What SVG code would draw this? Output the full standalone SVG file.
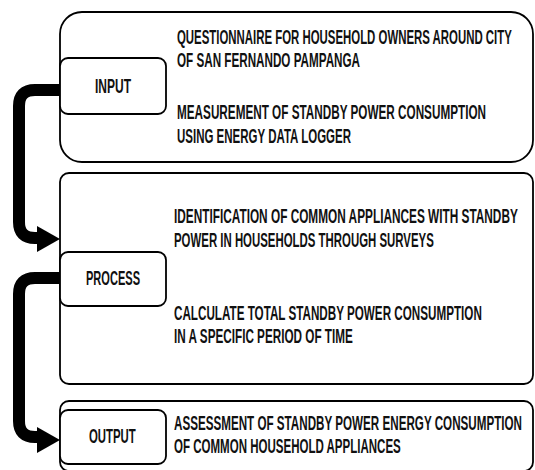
<svg xmlns="http://www.w3.org/2000/svg" width="535" height="470" viewBox="0 0 535 470">
<defs>
<style>
.big{fill:#fff;stroke:#000;stroke-width:1.8}
.small{fill:#fff;stroke:#000;stroke-width:1.8}
.t{font-family:"Liberation Sans",Arial,sans-serif;font-weight:bold;font-size:20px;fill:#111}
.conn{fill:none;stroke:#000;stroke-width:12}
</style>
</defs>
<rect width="535" height="470" fill="#fff"/>
<g id="input-panel">
<rect class="big" x="60" y="12" width="473" height="150" rx="22"/>
<text class="t" transform="translate(177,44) scale(0.6,1)" textLength="558" lengthAdjust="spacingAndGlyphs">QUESTIONNAIRE FOR HOUSEHOLD OWNERS AROUND CITY</text>
<text class="t" transform="translate(177,67) scale(0.6,1)" textLength="305" lengthAdjust="spacingAndGlyphs">OF SAN FERNANDO PAMPANGA</text>
<text class="t" transform="translate(177,119) scale(0.6,1)" textLength="515" lengthAdjust="spacingAndGlyphs">MEASUREMENT OF STANDBY POWER CONSUMPTION</text>
<text class="t" transform="translate(177,143) scale(0.6,1)" textLength="290" lengthAdjust="spacingAndGlyphs">USING ENERGY DATA LOGGER</text>
</g>
<g id="process-panel">
<rect class="big" x="60" y="173" width="473" height="211" rx="9"/>
<text class="t" transform="translate(174,223) scale(0.6,1)" textLength="573" lengthAdjust="spacingAndGlyphs">IDENTIFICATION OF COMMON APPLIANCES WITH STANDBY</text>
<text class="t" transform="translate(174,247) scale(0.6,1)" textLength="433" lengthAdjust="spacingAndGlyphs">POWER IN HOUSEHOLDS THROUGH SURVEYS</text>
<text class="t" transform="translate(174,320) scale(0.6,1)" textLength="513" lengthAdjust="spacingAndGlyphs">CALCULATE TOTAL STANDBY POWER CONSUMPTION</text>
<text class="t" transform="translate(174,343) scale(0.6,1)" textLength="298" lengthAdjust="spacingAndGlyphs">IN A SPECIFIC PERIOD OF TIME</text>
</g>
<g id="output-panel">
<rect class="big" x="60" y="401" width="473" height="70" rx="9"/>
<text class="t" transform="translate(174,430) scale(0.6,1)" textLength="580" lengthAdjust="spacingAndGlyphs">ASSESSMENT OF STANDBY POWER ENERGY CONSUMPTION</text>
<text class="t" transform="translate(174,453) scale(0.6,1)" textLength="378" lengthAdjust="spacingAndGlyphs">OF COMMON HOUSEHOLD APPLIANCES</text>
</g>
<g id="connectors">
<path class="conn" d="M60,90 H35 Q19,90 19,106 V222 Q19,238 35,238 H42"/>
<polygon points="37,226 60,239 37,252" fill="#000"/>
<path class="conn" d="M60,278 H35 Q19,278 19,294 V421 Q19,437 35,437 H42"/>
<polygon points="37,427 60,440 37,453" fill="#000"/>
</g>
<g id="input">
<rect class="small" x="60" y="58" width="106" height="56" rx="8"/>
<text class="t" transform="translate(95,93) scale(0.6,1)" textLength="60" lengthAdjust="spacingAndGlyphs">INPUT</text>
</g>
<g id="process">
<rect class="small" x="60" y="252" width="106" height="54" rx="8"/>
<text class="t" transform="translate(86,285) scale(0.6,1)" textLength="90" lengthAdjust="spacingAndGlyphs">PROCESS</text>
</g>
<g id="output">
<rect class="small" x="60" y="410" width="106" height="54" rx="8"/>
<text class="t" transform="translate(89,443) scale(0.6,1)" textLength="78" lengthAdjust="spacingAndGlyphs">OUTPUT</text>
</g>
</svg>
